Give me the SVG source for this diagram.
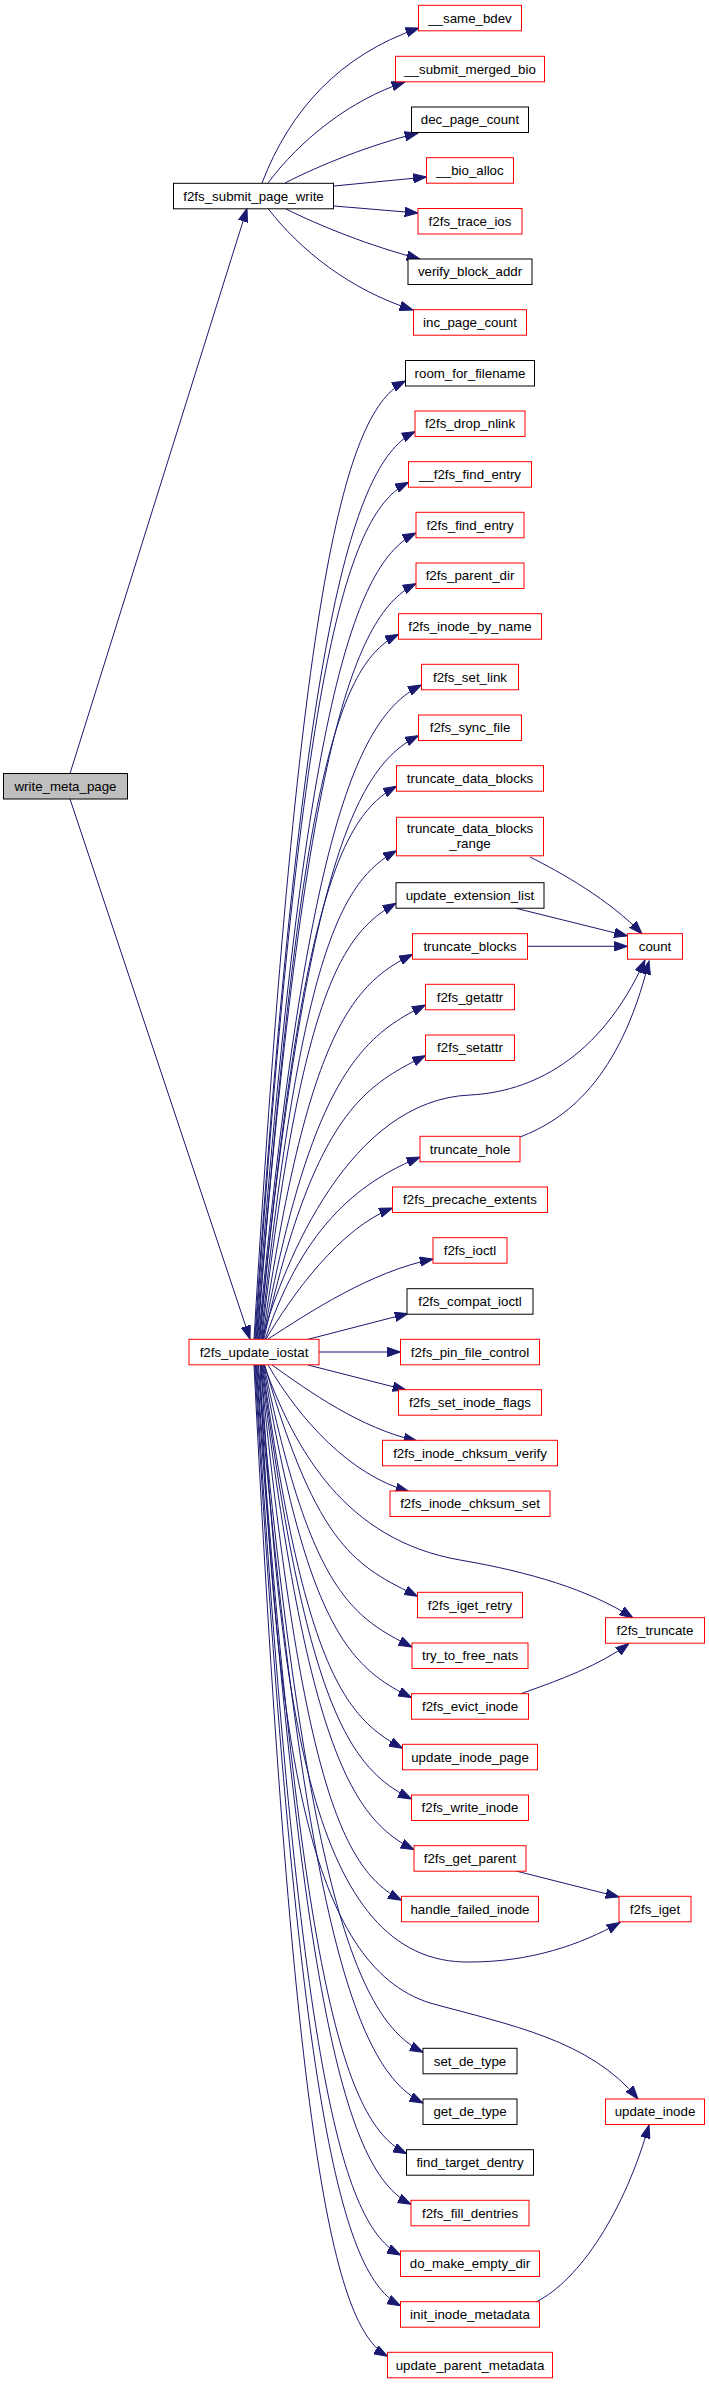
<svg xmlns="http://www.w3.org/2000/svg" width="709" height="2384" viewBox="0 0 709 2384">
<defs>
<style>
.node rect{fill:#ffffff;stroke:#000000;stroke-width:1}
.node.red rect{stroke:#ff0000}
.node.root rect{fill:#bfbfbf}
.node text{font-family:"Liberation Sans",Arial,Helvetica,sans-serif;font-size:13.3px;text-anchor:middle;fill:#000000}
#edges path{fill:none;stroke:#191970;stroke-width:1;marker-end:url(#arr)}
</style>
<marker id="arr" markerUnits="userSpaceOnUse" markerWidth="14" markerHeight="10" viewBox="0 0 14 10" refX="13.3" refY="5" orient="auto">
<path d="M0,0.3 L13.3,5 L0,9.7 z" fill="#191970" stroke="#191970" stroke-width="1"/>
</marker>
</defs>
<rect width="709" height="2384" fill="#ffffff"/>
<g id="edges">
<path d="M70,773.5 L247,208.5"/>
<path d="M70,799 L250,1339"/>
<path d="M262,183 C290,110 340,55 419,28"/>
<path d="M268,183 C300,140 350,100 405,82"/>
<path d="M285,183 C320,165 370,145 418,133"/>
<path d="M334,186 L426.5,177"/>
<path d="M334,206 L418,213"/>
<path d="M285,208.5 C320,226 370,246 420,259"/>
<path d="M268,208.5 C300,250 350,290 413,310"/>
<path d="M254,1339 C299.5,572.6 345.5,411 405.5,381"/>
<path d="M254.8,1339 C302.9,613.1 355,461.6 415,431.6"/>
<path d="M255.5,1339 C301.4,653.6 348.5,512.3 408.5,482.3"/>
<path d="M256.2,1339 C304.1,694.1 356,562.9 416,532.9"/>
<path d="M257,1339 C304.7,734.7 356,613.6 416,583.6"/>
<path d="M257.7,1339 C299.9,775.2 338.5,664.3 398.5,634.3"/>
<path d="M258.5,1339 C307.4,815.7 361.5,714.9 421.5,684.9"/>
<path d="M259.2,1339 C307,856.3 358.5,765.6 418.5,735.6"/>
<path d="M259.9,1339 C300.9,896.8 341.9,816.3 396.5,786.3"/>
<path d="M260.9,1339 C301.6,948.4 342.3,880.7 396.5,850.7"/>
<path d="M261.6,1339 C301.9,990.4 342.2,933.3 396,903.3"/>
<path d="M262.4,1339 C307.4,1031.2 352.5,984.3 412.5,954.3"/>
<path d="M263.1,1339 C311.8,1071.7 365.5,1034.9 425.5,1004.9"/>
<path d="M263.9,1339 C314.2,1112.3 365.5,1085.6 425.5,1055.6"/>
<path d="M265.3,1339 C305,1220 365,1180 420,1157"/>
<path d="M266,1339 C292,1295 340,1228 392.5,1208"/>
<path d="M268,1339 C310,1312 370,1272 433,1259"/>
<path d="M308,1339.3 L408,1313.5"/>
<path d="M262,1339 C285,1260 350,1100 470,1095 C530,1092 600,1060 645,960"/>
<path d="M530,857 C560,872 610,900 642,934"/>
<path d="M516,908.3 L627.5,936"/>
<path d="M527.5,946.3 L627.5,946.3"/>
<path d="M520,1137 C565,1120 620,1080 649,961"/>
<path d="M319,1352 L400.5,1352"/>
<path d="M308,1365 L406,1390"/>
<path d="M272,1365 C310,1392 360,1428 417,1441"/>
<path d="M268,1365 C300,1420 350,1475 409,1491.5"/>
<path d="M264.7,1365 C317.6,1550 357.5,1566.3 417.5,1596.3"/>
<path d="M264,1365 C310.2,1590.6 352,1617 412,1647"/>
<path d="M263.3,1365 C307.8,1631.2 351.5,1667.7 411.5,1697.7"/>
<path d="M262.6,1365 C304.6,1671.6 346.5,1718.3 402.5,1748.3"/>
<path d="M261.9,1365 C306.8,1712.2 351.5,1769 411.5,1799"/>
<path d="M261.1,1365 C307,1752.8 354,1819.7 414,1849.7"/>
<path d="M260.4,1365 C302.7,1793.2 345.1,1870.3 401.5,1900.3"/>
<path d="M258.3,1365 C307.7,1914.8 363,2022.3 423,2052.3"/>
<path d="M257.6,1365 C307.2,1955.4 363,2073 423,2103"/>
<path d="M256.8,1365 C301.7,1996 346.5,2123.7 406.5,2153.7"/>
<path d="M256.1,1365 C302.6,2036.4 351,2174.3 411,2204.3"/>
<path d="M255.4,1365 C298.9,2077 342.5,2225 400.5,2255"/>
<path d="M254.7,1365 C298.4,2117.6 342.2,2275.7 400.5,2305.7"/>
<path d="M254,1365 C294,2158 334.1,2326.3 387.5,2356.3"/>
<path d="M264,1365 C295,1450 345,1540 460,1560 C530,1572 590,1590 633,1618"/>
<path d="M520,1694 C560,1680 600,1665 629,1643.5"/>
<path d="M261,1365 C280,1700 310,1965 470,1962 C530,1962 580,1945 620,1922.5"/>
<path d="M516,1871 L619,1897"/>
<path d="M260,1365 C275,1750 310,1965 430,2003 C510,2025 590,2040 638,2099"/>
<path d="M536,2302 C580,2280 625,2210 649,2125"/>
</g>
<g id="n_write_meta_page" class="node root"><rect x="3.5" y="773.5" width="124" height="25.5"/><text x="65.5" y="790.8">write_meta_page</text></g>
<g id="n_f2fs_submit_page_write" class="node"><rect x="173.5" y="183.3" width="160" height="25.5"/><text x="253.5" y="200.6">f2fs_submit_page_write</text></g>
<g id="n_f2fs_update_iostat" class="node red"><rect x="189" y="1339.3" width="130" height="25.5"/><text x="254" y="1356.6">f2fs_update_iostat</text></g>
<g id="n___same_bdev" class="node red"><rect x="418.5" y="5.3" width="103" height="25.5"/><text x="470" y="22.6">__same_bdev</text></g>
<g id="n___submit_merged_bio" class="node red"><rect x="395.5" y="56.3" width="149" height="25.5"/><text x="470" y="73.6">__submit_merged_bio</text></g>
<g id="n_dec_page_count" class="node"><rect x="411.5" y="107" width="117" height="25.5"/><text x="470" y="124.3">dec_page_count</text></g>
<g id="n___bio_alloc" class="node red"><rect x="426.5" y="157.7" width="87" height="25.5"/><text x="470" y="175">__bio_alloc</text></g>
<g id="n_f2fs_trace_ios" class="node red"><rect x="418" y="208.5" width="104" height="25.5"/><text x="470" y="225.8">f2fs_trace_ios</text></g>
<g id="n_verify_block_addr" class="node"><rect x="408" y="259" width="124" height="25.5"/><text x="470" y="276.3">verify_block_addr</text></g>
<g id="n_inc_page_count" class="node red"><rect x="413.5" y="309.7" width="113" height="25.5"/><text x="470" y="327">inc_page_count</text></g>
<g id="n_room_for_filename" class="node"><rect x="405.5" y="360.5" width="129" height="25.5"/><text x="470" y="377.8">room_for_filename</text></g>
<g id="n_f2fs_drop_nlink" class="node red"><rect x="415" y="411" width="110" height="25.5"/><text x="470" y="428.3">f2fs_drop_nlink</text></g>
<g id="n___f2fs_find_entry" class="node red"><rect x="408.5" y="461.7" width="123" height="25.5"/><text x="470" y="479">__f2fs_find_entry</text></g>
<g id="n_f2fs_find_entry" class="node red"><rect x="416" y="512.3" width="108" height="25.5"/><text x="470" y="529.6">f2fs_find_entry</text></g>
<g id="n_f2fs_parent_dir" class="node red"><rect x="416" y="563" width="108" height="25.5"/><text x="470" y="580.3">f2fs_parent_dir</text></g>
<g id="n_f2fs_inode_by_name" class="node red"><rect x="398.5" y="613.7" width="143" height="25.5"/><text x="470" y="631">f2fs_inode_by_name</text></g>
<g id="n_f2fs_set_link" class="node red"><rect x="421.5" y="664.3" width="97" height="25.5"/><text x="470" y="681.6">f2fs_set_link</text></g>
<g id="n_f2fs_sync_file" class="node red"><rect x="418.5" y="715" width="103" height="25.5"/><text x="470" y="732.3">f2fs_sync_file</text></g>
<g id="n_truncate_data_blocks" class="node red"><rect x="396.5" y="765.7" width="147" height="25.5"/><text x="470" y="783">truncate_data_blocks</text></g>
<g id="n_truncate_data_blocks_range" class="node red"><rect x="396.5" y="817.3" width="147" height="38.5"/><text x="470" y="833">truncate_data_blocks</text><text x="470" y="848">_range</text></g>
<g id="n_update_extension_list" class="node"><rect x="396" y="882.7" width="148" height="25.5"/><text x="470" y="900">update_extension_list</text></g>
<g id="n_truncate_blocks" class="node red"><rect x="412.5" y="933.7" width="115" height="25.5"/><text x="470" y="951">truncate_blocks</text></g>
<g id="n_f2fs_getattr" class="node red"><rect x="425.5" y="984.3" width="89" height="25.5"/><text x="470" y="1001.6">f2fs_getattr</text></g>
<g id="n_f2fs_setattr" class="node red"><rect x="425.5" y="1035" width="89" height="25.5"/><text x="470" y="1052.3">f2fs_setattr</text></g>
<g id="n_truncate_hole" class="node red"><rect x="420" y="1136.3" width="100" height="25.5"/><text x="470" y="1153.6">truncate_hole</text></g>
<g id="n_f2fs_precache_extents" class="node red"><rect x="392.5" y="1187" width="155" height="25.5"/><text x="470" y="1204.3">f2fs_precache_extents</text></g>
<g id="n_f2fs_ioctl" class="node red"><rect x="433" y="1237.7" width="74" height="25.5"/><text x="470" y="1255">f2fs_ioctl</text></g>
<g id="n_f2fs_compat_ioctl" class="node"><rect x="407" y="1288.7" width="126" height="25.5"/><text x="470" y="1306">f2fs_compat_ioctl</text></g>
<g id="n_f2fs_pin_file_control" class="node red"><rect x="400.5" y="1339.3" width="139" height="25.5"/><text x="470" y="1356.6">f2fs_pin_file_control</text></g>
<g id="n_f2fs_set_inode_flags" class="node red"><rect x="398.5" y="1389.7" width="143" height="25.5"/><text x="470" y="1407">f2fs_set_inode_flags</text></g>
<g id="n_f2fs_inode_chksum_verify" class="node red"><rect x="382.5" y="1440.3" width="175" height="25.5"/><text x="470" y="1457.6">f2fs_inode_chksum_verify</text></g>
<g id="n_f2fs_inode_chksum_set" class="node red"><rect x="390" y="1491" width="160" height="25.5"/><text x="470" y="1508.3">f2fs_inode_chksum_set</text></g>
<g id="n_f2fs_iget_retry" class="node red"><rect x="417.5" y="1592.3" width="105" height="25.5"/><text x="470" y="1609.6">f2fs_iget_retry</text></g>
<g id="n_try_to_free_nats" class="node red"><rect x="412" y="1643" width="116" height="25.5"/><text x="470" y="1660.3">try_to_free_nats</text></g>
<g id="n_f2fs_evict_inode" class="node red"><rect x="411.5" y="1693.7" width="117" height="25.5"/><text x="470" y="1711">f2fs_evict_inode</text></g>
<g id="n_update_inode_page" class="node red"><rect x="402.5" y="1744.3" width="135" height="25.5"/><text x="470" y="1761.6">update_inode_page</text></g>
<g id="n_f2fs_write_inode" class="node red"><rect x="411.5" y="1795" width="117" height="25.5"/><text x="470" y="1812.3">f2fs_write_inode</text></g>
<g id="n_f2fs_get_parent" class="node red"><rect x="414" y="1845.7" width="112" height="25.5"/><text x="470" y="1863">f2fs_get_parent</text></g>
<g id="n_handle_failed_inode" class="node red"><rect x="401.5" y="1896.3" width="137" height="25.5"/><text x="470" y="1913.6">handle_failed_inode</text></g>
<g id="n_set_de_type" class="node"><rect x="423" y="2048.3" width="94" height="25.5"/><text x="470" y="2065.6">set_de_type</text></g>
<g id="n_get_de_type" class="node"><rect x="423" y="2099" width="94" height="25.5"/><text x="470" y="2116.3">get_de_type</text></g>
<g id="n_find_target_dentry" class="node"><rect x="406.5" y="2149.7" width="127" height="25.5"/><text x="470" y="2167">find_target_dentry</text></g>
<g id="n_f2fs_fill_dentries" class="node red"><rect x="411" y="2200.3" width="118" height="25.5"/><text x="470" y="2217.6">f2fs_fill_dentries</text></g>
<g id="n_do_make_empty_dir" class="node red"><rect x="400.5" y="2251" width="139" height="25.5"/><text x="470" y="2268.3">do_make_empty_dir</text></g>
<g id="n_init_inode_metadata" class="node red"><rect x="400.5" y="2301.7" width="139" height="25.5"/><text x="470" y="2319">init_inode_metadata</text></g>
<g id="n_update_parent_metadata" class="node red"><rect x="387.5" y="2352.3" width="165" height="25.5"/><text x="470" y="2369.6">update_parent_metadata</text></g>
<g id="n_count" class="node red"><rect x="627.5" y="933.7" width="55" height="25.5"/><text x="655" y="951">count</text></g>
<g id="n_f2fs_truncate" class="node red"><rect x="605.5" y="1617.7" width="99" height="25.5"/><text x="655" y="1635">f2fs_truncate</text></g>
<g id="n_f2fs_iget" class="node red"><rect x="619" y="1896.3" width="72" height="25.5"/><text x="655" y="1913.6">f2fs_iget</text></g>
<g id="n_update_inode" class="node red"><rect x="605.5" y="2099" width="99" height="25.5"/><text x="655" y="2116.3">update_inode</text></g>
</svg>
